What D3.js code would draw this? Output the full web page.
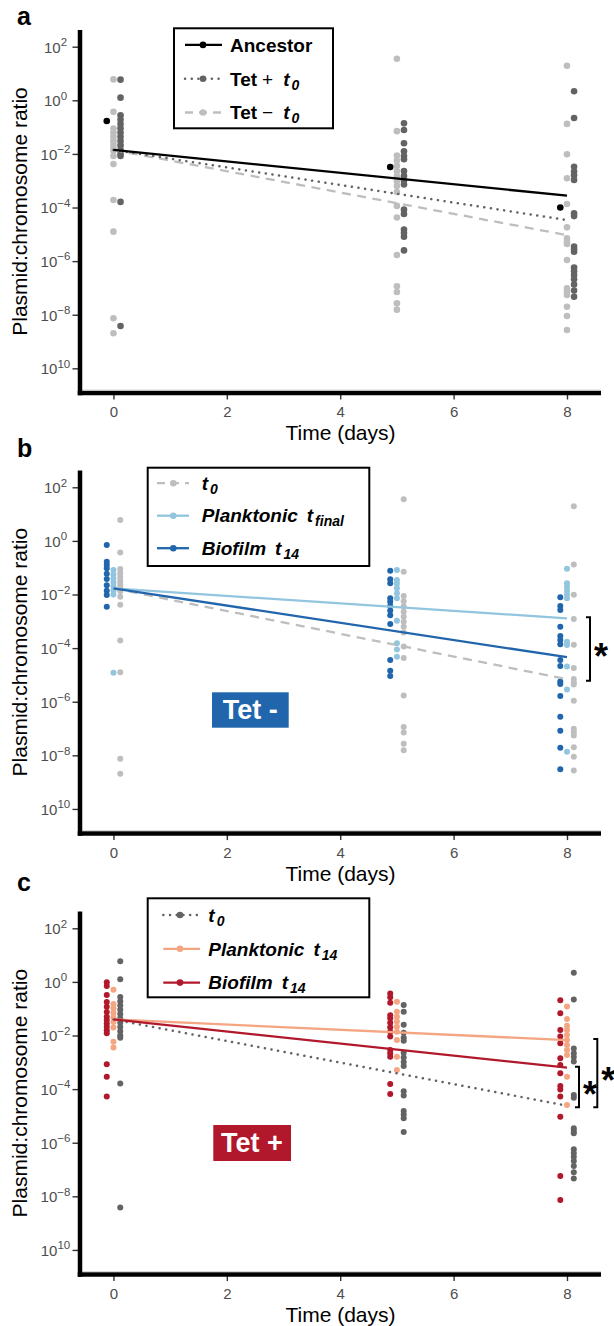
<!DOCTYPE html>
<html><head><meta charset="utf-8">
<script src="https://cdn.jsdelivr.net/npm/d3@7"></script>
<style>
body{margin:0;background:#fff}
svg{display:block}
text{font-family:"Liberation Sans",Arial,Helvetica,sans-serif}
</style>
</head><body>
<svg id="chart" width="614" height="1326"></svg>
<script>
// ---------------- DATA (log10 of plasmid:chromosome ratio) ----------------
const days = [0, 5, 8];
const fitDays = [0, 8];
const xTicks = [0, 2, 4, 6, 8];
const yTickExp = [2, 0, -2, -4, -6, -8, -10];
const yTickSup = ["2", "0", "\u22122", "\u22124", "\u22126", "\u22128", "10"];

// each series: [day0 values, day5 values, day8 values]
const ancestor = [[-0.77], [-2.49], [-4.0]];
const tetPlusT0 = [
  [0.77, 0.1, -0.56, -0.72, -0.88, -1.04, -1.2, -1.36, -1.52, -1.68, -1.84, -2.0, -2.08, -3.79, -8.42],
  [-0.86, -1.11, -1.6, -1.9, -2.08, -2.2, -2.64, -2.82, -2.99, -3.14, -4.08, -4.24, -4.82, -4.95, -5.09, -5.6],
  [0.34, -0.66, -2.48, -2.66, -2.8, -2.97, -4.22, -4.32, -5.46, -5.56, -5.65, -6.24, -6.38, -6.52, -6.68, -6.87, -7.1, -7.33]
];
const tetMinusT0 = [
  [0.78, -0.43, -1.05, -1.2, -1.35, -1.5, -1.62, -1.75, -1.88, -2.08, -2.38, -3.72, -4.9, -8.13, -8.69],
  [1.55, -1.15, -2.06, -2.25, -2.44, -2.64, -2.83, -3.02, -3.2, -3.42, -3.94, -4.37, -5.77, -6.94, -7.15, -7.57, -7.81],
  [1.29, -0.88, -2.01, -2.91, -3.87, -4.74, -5.15, -5.28, -5.36, -5.96, -7.01, -7.14, -7.26, -7.7, -8.05, -8.57]
];
const plankTetMinus = [
  [-1.09, -1.25, -1.4, -1.55, -1.7, -1.85, -2.0, -4.92],
  [-1.09, -1.46, -1.6, -1.77, -1.95, -2.14, -2.98, -3.82, -4.05, -4.32],
  [-1.04, -1.58, -1.72, -1.86, -2.0, -2.14, -3.76, -3.88, -4.69, -5.54, -7.87]
];
const bioTetMinus = [
  [-0.15, -0.78, -0.9, -1.02, -1.23, -1.42, -1.65, -1.86, -2.02, -2.46],
  [-1.11, -1.43, -1.58, -2.14, -2.27, -2.43, -2.6, -2.77, -3.1, -4.44, -4.84, -5.04],
  [-2.1, -2.43, -2.58, -3.2, -3.55, -3.7, -3.86, -4.44, -4.67, -5.25, -5.34, -5.79, -6.56, -7.08, -7.72, -8.52]
];
const plankTetPlus = [
  [-0.29, -0.82, -0.98, -1.15, -1.32, -1.5, -1.7, -2.23, -2.45],
  [-0.74, -1.11, -1.3, -1.48, -1.67, -1.86, -2.17, -2.79, -3.29],
  [-0.92, -1.38, -1.64, -1.79, -1.98, -2.17, -2.35, -2.54, -2.73, -3.54, -4.59]
];
const bioTetPlus = [
  [-0.01, -0.15, -0.49, -0.75, -0.93, -1.12, -1.3, -1.42, -1.55, -1.67, -1.8, -1.92, -3.07, -3.54, -4.28],
  [-0.43, -0.57, -0.78, -1.24, -1.36, -1.52, -1.69, -1.86, -2.04, -2.54, -2.66, -2.79, -3.81, -4.18],
  [-0.68, -1.17, -1.79, -2.04, -2.29, -2.85, -3.1, -3.41, -3.88, -4.01, -4.28, -5.03, -7.24, -8.14]
];

// fitted trend lines: log10 value at day 0 and day 8
const fitA_ancestor = [-1.85, -3.56];
const fitA_tetPlus = [-1.85, -4.47];
const fitA_tetMinus = [-1.85, -5.03];
const fitB_t0 = [-1.77, -5.16];
const fitB_plank = [-1.77, -2.89];
const fitB_bio = [-1.77, -4.34];
const fitC_t0 = [-1.4, -4.62];
const fitC_plank = [-1.4, -2.17];
const fitC_bio = [-1.4, -3.2];

// ---------------- STYLE ----------------
const COL = {
  black: "#000000", dgrey: "#636363", lgrey: "#bebebe",
  lblue: "#92c5de", dblue: "#2166ac", orange: "#f4a582", red: "#b2182b"
};
const DASH = {solid: null, dotted: "0.1,6.6", dashed: "9,6.5"};
const LEGDASH = {solid: null, dotted: "0.1,6.6", dashed: "8,6"};

const svg = d3.select("#chart");

function richText(g, x, y, parts, size) {
  const t = g.append("text").attr("x", x).attr("y", y).attr("font-size", size).attr("fill", "#000");
  parts.forEach(p => {
    const ts = t.append("tspan").text(p.t)
      .attr("font-weight", p.b ? "bold" : "normal")
      .attr("font-style", p.i ? "italic" : "normal");
    if (p.dx) ts.attr("dx", p.dx);
    if (p.sub) ts.attr("font-size", p.sub).attr("dy", 4);
  });
}

const tSub = (s, dx) => [{t: "t", b: 1, i: 1, dx: dx || 0}, {t: s, b: 1, i: 1, sub: 14, dx: 2}];

const panels = [
  {
    dy: 0, label: "a", labelY: 25, r: 3.3,
    series: [
      {data: tetMinusT0, color: COL.lgrey, off: 0, fit: fitA_tetMinus, dash: "dashed"},
      {data: tetPlusT0, color: COL.dgrey, off: 0.125, fit: fitA_tetPlus, dash: "dotted"},
      {data: ancestor, color: COL.black, off: -0.118, fit: fitA_ancestor, dash: "solid"}
    ],
    legend: {x0: 174, y0: 28.3, x1: 333, y1: 128.3, k0: 185, k1: 222, kc: 203, tx: 230, base: 51.7, step: 33.8,
      entries: [
        {s: 2, parts: [{t: "Ancestor", b: 1}]},
        {s: 1, parts: [{t: "Tet", b: 1}, {t: "+", dx: 5}].concat(tSub("0", 10))},
        {s: 0, parts: [{t: "Tet", b: 1}, {t: "\u2212", dx: 5}].concat(tSub("0", 10))}
      ]},
    tag: null, brackets: []
  },
  {
    dy: 440.6, label: "b", labelY: 457, r: 3.0,
    series: [
      {data: tetMinusT0, color: COL.lgrey, off: 0.12, fit: fitB_t0, dash: "dashed"},
      {data: plankTetMinus, color: COL.lblue, off: 0, fit: fitB_plank, dash: "solid"},
      {data: bioTetMinus, color: COL.dblue, off: -0.118, fit: fitB_bio, dash: "solid"}
    ],
    legend: {x0: 147.7, y0: 467.7 - 440.6, x1: 369.3, y1: 566 - 440.6, k0: 157, k1: 189, kc: 173.3, tx: 201.7, base: 490 - 440.6, step: 32.5,
      entries: [
        {s: 0, parts: tSub("0")},
        {s: 1, parts: [{t: "Planktonic", b: 1, i: 1}].concat(tSub("final", 9))},
        {s: 2, parts: [{t: "Biofilm", b: 1, i: 1}].concat(tSub("14", 9))}
      ]},
    tag: {x: 212, y: 251.7, w: 76.7, h: 35.4, text: "Tet -", color: COL.dblue, tx: 250.3, ty: 278.4},
    brackets: [{x: 590, a: fitB_plank, b: fitB_t0}]
  },
  {
    dy: 881.6, label: "c", labelY: 890.7, r: 3.0,
    series: [
      {data: tetPlusT0, color: COL.dgrey, off: 0.12, fit: fitC_t0, dash: "dotted"},
      {data: plankTetPlus, color: COL.orange, off: 0, fit: fitC_plank, dash: "solid"},
      {data: bioTetPlus, color: COL.red, off: -0.118, fit: fitC_bio, dash: "solid"}
    ],
    legend: {x0: 147.7, y0: 898.3 - 881.6, x1: 369.3, y1: 997.3 - 881.6, k0: 163.3, k1: 200, kc: 180, tx: 208.3, base: 921.8 - 881.6, step: 33.8,
      entries: [
        {s: 0, parts: tSub("0")},
        {s: 1, parts: [{t: "Planktonic", b: 1, i: 1}].concat(tSub("14", 9))},
        {s: 2, parts: [{t: "Biofilm", b: 1, i: 1}].concat(tSub("14", 9))}
      ]},
    tag: {x: 213.3, y: 243.4, w: 77.7, h: 36, text: "Tet +", color: COL.red, tx: 252, ty: 270.7},
    brackets: [{x: 579, a: fitC_bio, b: fitC_t0}, {x: 597.3, a: fitC_plank, b: fitC_t0}]
  }
];

const X0 = 80, X1 = 601, YTOP = 30, YBOT = 393;
const pow = v => Math.pow(10, v);

panels.forEach(cfg => {
  const g = svg.append("g").attr("transform", `translate(0,${cfg.dy})`);
  const x = d3.scaleLinear().domain([-0.59, 8.6]).range([X0, X1]);
  const y = d3.scaleLog().domain([pow(-10.92), pow(2.623)]).range([YBOT, YTOP]);

  svg.append("text").attr("x", 17).attr("y", cfg.labelY)
    .attr("font-size", 25).attr("font-weight", "bold").attr("fill", "#000").text(cfg.label);

  const xa = g.append("g").attr("transform", `translate(0,${YBOT})`)
    .call(d3.axisBottom(x).tickValues(xTicks).tickSize(6.5).tickSizeOuter(0).tickPadding(7).tickFormat(d3.format("d")));
  xa.select(".domain").remove();
  xa.selectAll(".tick line").attr("stroke", "#333").attr("stroke-width", 1.4);
  xa.selectAll(".tick text").attr("font-size", 15).attr("fill", "#4d4d4d")
    .attr("font-family", '"Liberation Sans",Arial,sans-serif');

  const ya = g.append("g").attr("transform", `translate(${X0},0)`)
    .call(d3.axisLeft(y).tickValues(yTickExp.map(pow)).tickSize(7.5).tickSizeOuter(0).tickFormat(""));
  ya.select(".domain").remove();
  ya.selectAll(".tick line").attr("stroke", "#333").attr("stroke-width", 1.4);
  ya.selectAll(".tick text").remove();
  ya.selectAll(".tick").each(function(d, i) {
    const t = d3.select(this).append("text").attr("x", -24.5).attr("y", 5.3)
      .attr("text-anchor", "middle").attr("fill", "#4d4d4d").attr("font-size", 15);
    t.append("tspan").text("10");
    t.append("tspan").attr("dy", -6.5).attr("font-size", 11.5).text(yTickSup[i]);
  });

  g.append("line").attr("x1", X0 - 2.25).attr("x2", X1).attr("y1", YBOT).attr("y2", YBOT)
    .attr("stroke", "#000").attr("stroke-width", 4.5);
  g.append("line").attr("x1", X0 + 2.5).attr("x2", X1).attr("y1", YBOT - 3).attr("y2", YBOT - 3)
    .attr("stroke", "#c8c8c8").attr("stroke-width", 0.8);
  g.append("line").attr("x1", X0).attr("x2", X0).attr("y1", YTOP).attr("y2", YBOT + 2.25)
    .attr("stroke", "#000").attr("stroke-width", 4.5);

  g.append("text").attr("transform", `translate(26.5,${(YTOP + YBOT) / 2}) rotate(-90)`)
    .attr("text-anchor", "middle").attr("font-size", 21).attr("fill", "#000").text("Plasmid:chromosome ratio");
  g.append("text").attr("x", (X0 + X1) / 2).attr("y", 440).attr("text-anchor", "middle")
    .attr("font-size", 21).attr("fill", "#000").text("Time (days)");

  cfg.series.forEach(s => {
    s.data.forEach((vals, i) => {
      g.append("g").selectAll("circle").data(vals).enter().append("circle")
        .attr("cx", x(days[i] + s.off)).attr("cy", v => y(pow(v)))
        .attr("r", cfg.r).attr("fill", s.color);
    });
  });

  cfg.series.forEach(s => {
    const ln = g.append("line")
      .attr("x1", x(fitDays[0])).attr("y1", y(pow(s.fit[0])))
      .attr("x2", x(fitDays[1])).attr("y2", y(pow(s.fit[1])))
      .attr("stroke", s.color).attr("stroke-width", s.dash === "dotted" ? 2.5 : 2.3);
    if (s.dash === "dotted") ln.attr("stroke-dasharray", DASH.dotted).attr("stroke-linecap", "round");
    if (s.dash === "dashed") ln.attr("stroke-dasharray", DASH.dashed);
  });

  const L = cfg.legend;
  g.append("rect").attr("x", L.x0).attr("y", L.y0).attr("width", L.x1 - L.x0).attr("height", L.y1 - L.y0)
    .attr("fill", "#fff").attr("stroke", "#000").attr("stroke-width", 2);
  L.entries.forEach((e, i) => {
    const s = cfg.series[e.s];
    const by = L.base + i * L.step;
    const ky = by - 6.8;
    const kl = g.append("line").attr("x1", L.k0).attr("x2", L.k1).attr("y1", ky).attr("y2", ky)
      .attr("stroke", s.color).attr("stroke-width", s.dash === "dotted" ? 2.5 : 2.3);
    if (s.dash === "dotted") kl.attr("stroke-dasharray", LEGDASH.dotted).attr("stroke-linecap", "round");
    if (s.dash === "dashed") kl.attr("stroke-dasharray", LEGDASH.dashed);
    g.append("circle").attr("cx", L.kc).attr("cy", ky).attr("r", 3.3).attr("fill", s.color);
    richText(g, L.tx, by, e.parts, 19);
  });

  if (cfg.tag) {
    const T = cfg.tag;
    g.append("rect").attr("x", T.x).attr("y", T.y).attr("width", T.w).attr("height", T.h).attr("fill", T.color);
    g.append("text").attr("x", T.tx).attr("y", T.ty).attr("text-anchor", "middle")
      .attr("font-size", 27).attr("font-weight", "bold").attr("fill", "#fff").text(T.text);
  }

  cfg.brackets.forEach(b => {
    const ya1 = y(pow(b.a[1])) - 1, yb1 = y(pow(b.b[1])) + 1.5;
    g.append("path").attr("d", `M${b.x - 4},${ya1}H${b.x}V${yb1}H${b.x - 4}`)
      .attr("fill", "none").attr("stroke", "#000").attr("stroke-width", 2);
    g.append("text").attr("x", b.x + 11).attr("y", (ya1 + yb1) / 2 + 20)
      .attr("text-anchor", "middle").attr("font-size", 36).attr("font-weight", "bold").attr("fill", "#000").text("*");
  });
});
</script>
</body></html>
